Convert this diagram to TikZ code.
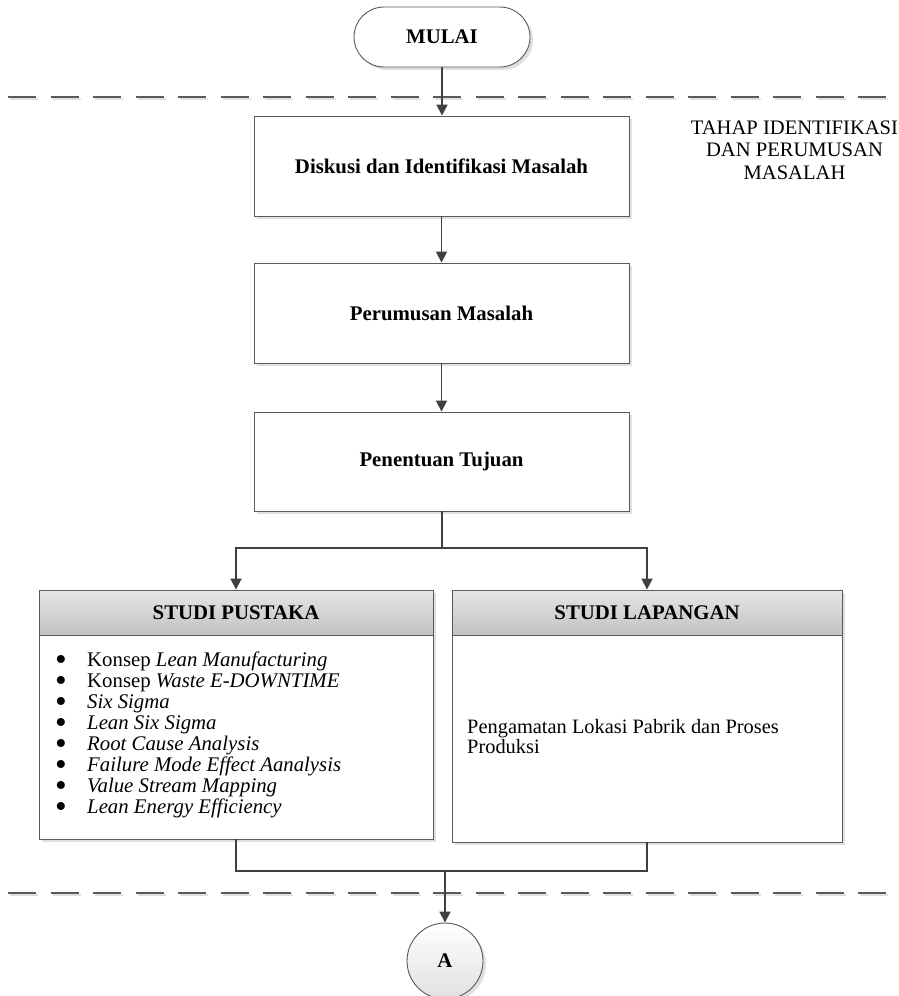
\documentclass[tikz,border=0pt]{standalone}
\usepackage{fontspec}
\setmainfont{Liberation Serif}
\usetikzlibrary{shapes.misc, arrows.meta, shadows}

\definecolor{linegray}{HTML}{404040}
\definecolor{edgegray}{HTML}{5A5A5A}

\newcommand\chartsize{\fontsize{20.8}{21}\selectfont}
\newcommand\listbullet{\smash{\raisebox{-4.3pt}{\scalebox{1.6}{\textbullet}}}}

\tikzset{
  conn/.style={draw=linegray, line width=1.8pt},
  flow/.style={conn, -{Triangle[length=11pt, width=11pt]}},
  boxshadow/.style={drop shadow={shadow xshift=3pt, shadow yshift=-3pt, fill=black!12, opacity=1}},
  basebox/.style={draw=edgegray, line width=0.9pt, fill=white, inner sep=0pt, boxshadow},
  procbox/.style={basebox, rectangle, minimum width=375pt, minimum height=100pt, font=\chartsize\bfseries},
  terminal/.style={basebox, rounded rectangle, minimum width=176pt, minimum height=60pt, font=\chartsize\bfseries},
  panel/.style={basebox, rectangle},
  panelhead/.style={rectangle, draw=edgegray, line width=0.9pt, top color=black!10, bottom color=black!24,
                    inner sep=0pt, minimum height=45pt, font=\chartsize\bfseries},
  connector/.style={basebox, circle, minimum size=76pt, top color=white, bottom color=black!12, font=\chartsize\bfseries},
  phase/.style={draw=edgegray, line width=1.5pt, dash pattern=on 28pt off 14.5pt, dash phase=34.5pt},
  phaseshadow/.style={draw=black!12, line width=1.5pt, dash pattern=on 28pt off 14.5pt, dash phase=34.5pt},
  listitem/.style={anchor=base west, inner sep=0pt, font=\chartsize},
}

\begin{document}
\begin{tikzpicture}[x=1pt, y=-1pt, font=\chartsize]
\useasboundingbox (0,0) rectangle (898,996);
\clip (0,0) rectangle (898,996);

% phase separators
\coordinate (sepAl) at (0,97);   \coordinate (sepAr) at (898,97);
\coordinate (sepBl) at (0,893);  \coordinate (sepBr) at (898,893);
\draw[phaseshadow] ([shift={(2,2)}]sepAl) -- ([shift={(2,2)}]sepAr);
\draw[phaseshadow] ([shift={(2,2)}]sepBl) -- ([shift={(2,2)}]sepBr);
\draw[phase] (sepAl) -- (sepAr);
\draw[phase] (sepBl) -- (sepBr);

% phase label
\node[align=center, font=\fontsize{20.6}{22.5}\selectfont] (tahap) at (794.5,150)
  {TAHAP IDENTIFIKASI\\DAN PERUMUSAN\\MASALAH};

% main flow
\node[terminal] (mulai) at (442,37) {MULAI};
\node[procbox] (diskusi) at (441.5,166) {Diskusi dan Identifikasi Masalah};
\node[procbox] (rumusan) at (441.5,313) {Perumusan Masalah};
\node[procbox, minimum height=99pt] (tujuan) at (441.5,461.5) {Penentuan Tujuan};

% literature study panel
\node[panel, minimum width=394pt, minimum height=249pt] (pustaka) at (236,714.5) {};
\node[panelhead, minimum width=394pt] (pustakahead) at (236,612.5) {STUDI PUSTAKA};
\foreach \t [count=\i] in {
  {Konsep \textit{Lean Manufacturing}},
  {Konsep \textit{Waste E-DOWNTIME}},
  {\textit{Six Sigma}},
  {\textit{Lean Six Sigma}},
  {\textit{Root Cause Analysis}},
  {\textit{Failure Mode Effect Aanalysis}},
  {\textit{Value Stream Mapping}},
  {\textit{Lean Energy Efficiency}}}
  \node[listitem] (item\i) at (55,{666+21*(\i-1)}) {\makebox[32pt][l]{\listbullet}\t};

% field study panel
\node[panel, minimum width=390pt, minimum height=252pt] (lapangan) at (647,716) {};
\node[panelhead, minimum width=390pt] (lapanganhead) at (647,612.5) {STUDI LAPANGAN};
\node[anchor=west, align=left, inner sep=0pt, font=\fontsize{20.4}{20}\selectfont] (amat) at (467,737)
  {Pengamatan Lokasi Pabrik dan Proses\\Produksi};

% off-page connector
\node[connector] (hubA) at (445,961) {A};

% connectors
\draw[flow] (mulai.south) -- (mulai.south |- diskusi.north);
\draw[flow] (diskusi) -- (rumusan);
\draw[flow] (rumusan) -- (tujuan);
\coordinate (split) at (442,548);
\draw[conn] (tujuan.south -| split) -- (split);
\draw[flow] (split) -| (pustakahead.north);
\draw[flow] (split) -| (lapanganhead.north);
\coordinate (join) at (445,871);
\draw[conn] (pustaka.south) |- (join) -| (lapangan.south);
\draw[flow] (join) -- (hubA.north);
\end{tikzpicture}
\end{document}
